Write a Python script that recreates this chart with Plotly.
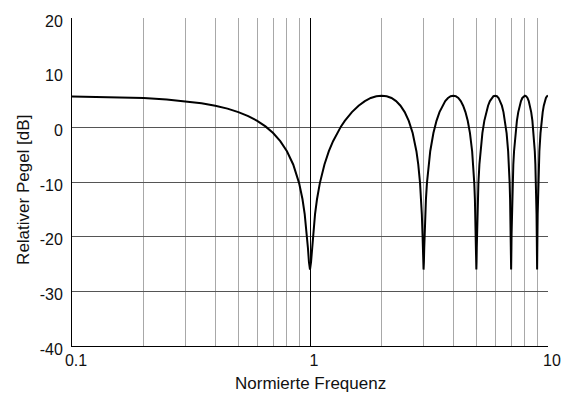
import plotly.graph_objects as go

# Normalised frequency and relative level (dB)
freq = [
    0.1, 0.15, 0.2, 0.25, 0.3, 0.35, 0.4, 0.45, 0.5, 0.55, 0.6, 0.65, 0.7, 0.75, 0.8, 0.85, 0.9, 0.93, 0.95, 0.97, 0.98, 0.99, 1.0,
    1.01, 1.02, 1.03, 1.05, 1.07, 1.1, 1.15, 1.2, 1.25, 1.3, 1.35, 1.4, 1.45, 1.5, 1.6, 1.7, 1.8, 1.9, 2.0,
    2.1, 2.2, 2.3, 2.4, 2.5, 2.6, 2.7, 2.8, 2.85, 2.9, 2.93, 2.95, 2.97, 2.98, 2.99, 3.0,
    3.01, 3.02, 3.03, 3.05, 3.07, 3.1, 3.15, 3.2, 3.3, 3.4, 3.5, 3.6, 3.7, 3.8, 3.9, 4.0,
    4.1, 4.2, 4.3, 4.4, 4.5, 4.6, 4.7, 4.8, 4.85, 4.9, 4.93, 4.95, 4.97, 4.98, 4.99, 5.0,
    5.01, 5.02, 5.03, 5.05, 5.07, 5.1, 5.15, 5.2, 5.3, 5.4, 5.5, 5.6, 5.7, 5.8, 5.9, 6.0,
    6.1, 6.2, 6.3, 6.4, 6.5, 6.6, 6.7, 6.8, 6.85, 6.9, 6.93, 6.95, 6.97, 6.98, 6.99, 7.0,
    7.01, 7.02, 7.03, 7.05, 7.07, 7.1, 7.15, 7.2, 7.3, 7.4, 7.5, 7.6, 7.7, 7.8, 7.9, 8.0,
    8.1, 8.2, 8.3, 8.4, 8.5, 8.6, 8.7, 8.8, 8.85, 8.9, 8.93, 8.95, 8.97, 8.98, 8.99, 9.0,
    9.01, 9.02, 9.03, 9.05, 9.07, 9.1, 9.15, 9.2, 9.3, 9.4, 9.5, 9.6, 9.7, 9.8, 9.9, 10.0,
]
level = [
    5.62, 5.52, 5.35, 5.11, 4.80, 4.42, 3.96, 3.42, 2.79, 2.06, 1.19, 0.17, -1.05, -2.53, -4.37, -6.79, -10.20, -13.16, -15.87, -19.56, -22.03, -24.65, -26.02,
    -24.65, -22.03, -19.56, -15.87, -13.16, -10.20, -6.79, -4.37, -2.53, -1.05, 0.17, 1.19, 2.06, 2.79, 3.96, 4.80, 5.37, 5.69, 5.78,
    5.69, 5.37, 4.80, 3.96, 2.79, 1.19, -1.05, -4.37, -6.79, -10.20, -13.16, -15.87, -19.56, -22.03, -24.65, -26.02,
    -24.65, -22.03, -19.56, -15.87, -13.16, -10.20, -6.79, -4.37, -1.05, 1.19, 2.79, 3.96, 4.80, 5.37, 5.69, 5.78,
    5.69, 5.37, 4.80, 3.96, 2.79, 1.19, -1.05, -4.37, -6.79, -10.20, -13.16, -15.87, -19.56, -22.03, -24.65, -26.02,
    -24.65, -22.03, -19.56, -15.87, -13.16, -10.20, -6.79, -4.37, -1.05, 1.19, 2.79, 3.96, 4.80, 5.37, 5.69, 5.78,
    5.69, 5.37, 4.80, 3.96, 2.79, 1.19, -1.05, -4.37, -6.79, -10.20, -13.16, -15.87, -19.56, -22.03, -24.65, -26.02,
    -24.65, -22.03, -19.56, -15.87, -13.16, -10.20, -6.79, -4.37, -1.05, 1.19, 2.79, 3.96, 4.80, 5.37, 5.69, 5.78,
    5.69, 5.37, 4.80, 3.96, 2.79, 1.19, -1.05, -4.37, -6.79, -10.20, -13.16, -15.87, -19.56, -22.03, -24.65, -26.02,
    -24.65, -22.03, -19.56, -15.87, -13.16, -10.20, -6.79, -4.37, -1.05, 1.19, 2.79, 3.96, 4.80, 5.37, 5.69, 5.78,
]

x_major = [0.1, 1, 10]
x_major_labels = ["0.1", "1", "10"]
x_minor = [0.2, 0.3, 0.4, 0.5, 0.6, 0.7, 0.8, 0.9, 2, 3, 4, 5, 6, 7, 8, 9]
y_ticks = [-40, -30, -20, -10, 0, 10, 20]
y_tick_labels = ["-40", "-30", "-20", "-10", "0", "10", "20"]
y_grid = [-30, -20, -10, 0]
x_title = "Normierte Frequenz"
y_title = "Relativer Pegel [dB]"

FONT = "Liberation Sans, Arial, sans-serif"

fig = go.Figure()
fig.add_trace(go.Scatter(
    x=freq, y=level, mode="lines",
    line=dict(color="#000000", width=2),
    hoverinfo="skip", showlegend=False,
))

fig.update_layout(
    width=575, height=399,
    margin=dict(l=64, r=35, t=10, b=61),
    paper_bgcolor="white", plot_bgcolor="white",
    font=dict(family=FONT, size=16, color="#111111"),
    xaxis=dict(
        type="log", range=[-1, 1], automargin=False,
        tickvals=x_major, ticktext=x_major_labels,
        showgrid=True, gridcolor="#000000", gridwidth=1,
        minor=dict(tickvals=x_minor, showgrid=True, gridcolor="#a8a8a8", gridwidth=1, ticks=""),
        showline=True, linecolor="#000000", linewidth=1,
        ticks="", ticklabelshift=4, ticklabelstandoff=0,
        ticklabeloverflow="allow",
        zeroline=False,
        tickfont=dict(size=16),
    ),
    yaxis=dict(
        range=[-40, 20], automargin=False,
        tickvals=y_ticks, ticktext=y_tick_labels,
        showgrid=False,
        minor=dict(tickvals=y_grid, showgrid=True, gridcolor="#555555", gridwidth=1, ticks=""),
        showline=True, linecolor="#000000", linewidth=1,
        ticks="", zeroline=False, ticklabelstandoff=5, ticklabelshift=3,
        ticklabeloverflow="allow",
        tickfont=dict(size=16),
    ),
    annotations=[
        dict(text=x_title, xref="paper", yref="paper", x=0.5, y=-0.113,
             xanchor="center", yanchor="middle", showarrow=False,
             font=dict(family=FONT, size=17, color="#111111")),
        dict(text=y_title, xref="paper", yref="paper", x=-0.1008, y=0.476,
             xanchor="center", yanchor="middle", textangle=-90, showarrow=False,
             font=dict(family=FONT, size=17, color="#111111")),
    ],
)

fig.write_html("out.html")
